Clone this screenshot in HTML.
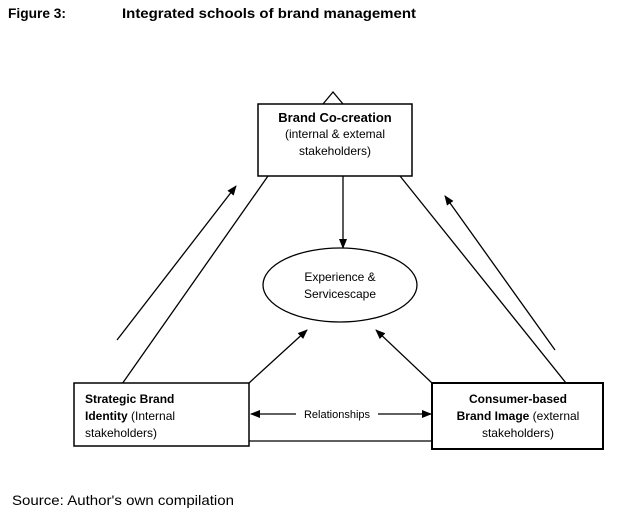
<!DOCTYPE html>
<html><head><style>
body{margin:0;background:#fff;width:622px;height:512px;overflow:hidden;font-family:"Liberation Sans",Arial,sans-serif}
svg{position:absolute;left:0;top:0}
text{font-family:"Liberation Sans",Arial,sans-serif;fill:#000}
</style></head><body>
<svg width="622" height="512" viewBox="0 0 622 512">
<defs><marker id="a" markerWidth="10" markerHeight="8" refX="9" refY="4" orient="auto" markerUnits="userSpaceOnUse"><path d="M0,0 L10,4 L0,8 z" fill="#000"/></marker></defs>
<text x="8" y="18" font-size="14" font-weight="bold" textLength="58" lengthAdjust="spacingAndGlyphs">Figure 3:</text>
<text x="122" y="18" font-size="14" font-weight="bold" textLength="294" lengthAdjust="spacingAndGlyphs">Integrated schools of brand management</text>
<g stroke="#000" stroke-width="1.3" fill="none">
<polyline points="323,104 333,92 343,104"/>
<line x1="268" y1="176" x2="122" y2="384"/>
<line x1="400" y1="176" x2="566" y2="383"/>
<line x1="249" y1="441" x2="432" y2="441"/>
<line x1="117" y1="340" x2="236" y2="186" marker-end="url(#a)"/>
<line x1="555" y1="350" x2="445" y2="196" marker-end="url(#a)"/>
<line x1="343" y1="176" x2="343" y2="248" marker-end="url(#a)"/>
<line x1="249" y1="383" x2="307" y2="330" marker-end="url(#a)"/>
<line x1="432" y1="383" x2="376" y2="330" marker-end="url(#a)"/>
<line x1="296" y1="414" x2="251" y2="414" marker-end="url(#a)"/>
<line x1="378" y1="414" x2="431" y2="414" marker-end="url(#a)"/>
</g>
<rect x="258" y="104" width="154" height="72" fill="#fff" stroke="#000" stroke-width="1.5"/>
<rect x="74" y="383" width="175" height="63" fill="#fff" stroke="#000" stroke-width="1.5"/>
<rect x="432" y="383" width="171" height="66" fill="#fff" stroke="#000" stroke-width="2"/>
<ellipse cx="340" cy="285" rx="77" ry="37" fill="#fff" stroke="#000" stroke-width="1.3"/>
<g font-size="12" text-anchor="middle">
<text x="335" y="122" font-weight="bold" font-size="13">Brand Co-creation</text>
<text x="335" y="138">(internal &amp; extemal</text>
<text x="335" y="155">stakeholders)</text>
<text x="340" y="281">Experience &amp;</text>
<text x="340" y="298">Servicescape</text>
<text x="337" y="418" font-size="11">Relationships</text>
<text x="518" y="403"><tspan font-weight="bold">Consumer-based</tspan></text>
<text x="518" y="420"><tspan font-weight="bold">Brand Image</tspan> (external</text>
<text x="518" y="437">stakeholders)</text>
</g>
<g font-size="12">
<text x="85" y="403" font-weight="bold">Strategic Brand</text>
<text x="85" y="420"><tspan font-weight="bold">Identity</tspan> (Internal</text>
<text x="85" y="437">stakeholders)</text>
</g>
<text x="12" y="505" font-size="14" textLength="222" lengthAdjust="spacingAndGlyphs">Source: Author's own compilation</text>
</svg>
</body></html>
